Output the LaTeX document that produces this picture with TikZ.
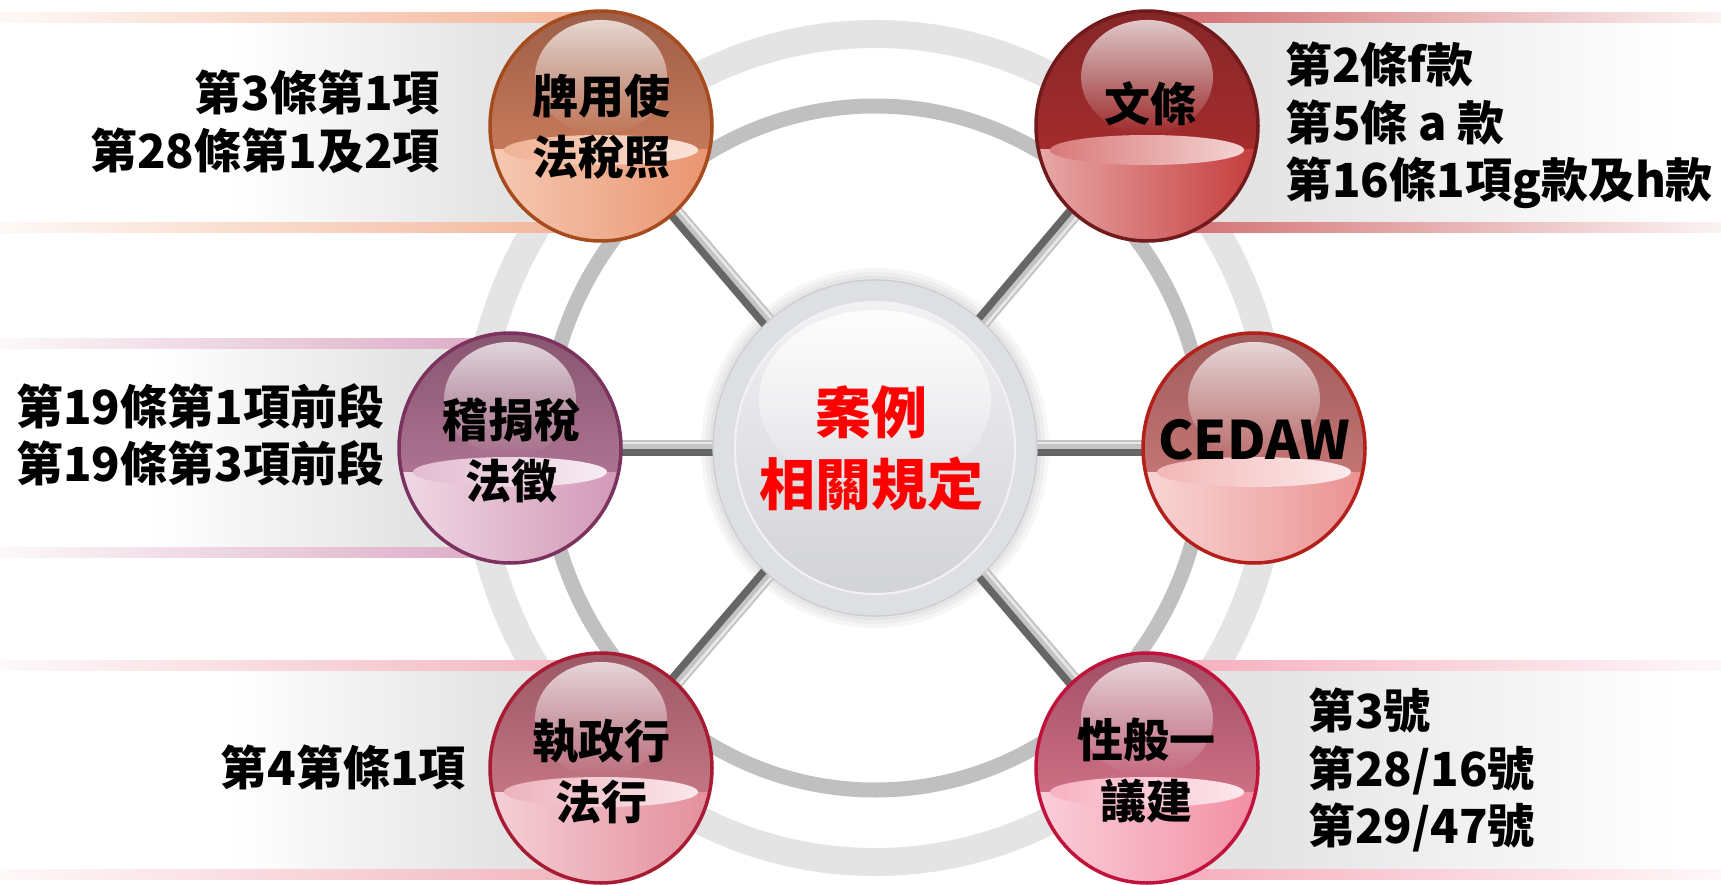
\documentclass[tikz,border=0pt]{standalone}
\usepackage{fontspec}
\setmainfont{Noto Sans CJK TC}
\usetikzlibrary{shapes.geometric,fadings,backgrounds}

\definecolor{ringin}{HTML}{C0C0C0}
\definecolor{ringout}{HTML}{E4E4E4}
\definecolor{bandgray}{HTML}{E3E3E3}
\definecolor{spkdark}{HTML}{666666}
\definecolor{spklight}{HTML}{C4C4C4}
\definecolor{spkhi}{HTML}{E8E8E8}
\definecolor{discout}{HTML}{DEDFE3}
\definecolor{discedge}{HTML}{CBCCD0}
\definecolor{discinA}{HTML}{F1F1F3}
\definecolor{discinB}{HTML}{D2D3D8}
\definecolor{cred}{HTML}{FF0000}
% satellite colours: border, top, bottom, liquid left, liquid right, stripe
\definecolor{aB}{HTML}{A64B1E}\definecolor{aT}{HTML}{9E5F49}\definecolor{aM}{HTML}{E08A64}\definecolor{aL}{HTML}{F7CDB8}\definecolor{aR}{HTML}{E8906A}\definecolor{aS}{HTML}{F2B395}
\definecolor{bB}{HTML}{701A1B}\definecolor{bT}{HTML}{862628}\definecolor{bM}{HTML}{B83030}\definecolor{bL}{HTML}{EBB0B0}\definecolor{bR}{HTML}{C33535}\definecolor{bS}{HTML}{D06A6C}
\definecolor{cB}{HTML}{7B325E}\definecolor{cT}{HTML}{885570}\definecolor{cM}{HTML}{C487A7}\definecolor{cL}{HTML}{F2DCE7}\definecolor{cR}{HTML}{D094B4}\definecolor{cS}{HTML}{DBA8C3}
\definecolor{dB}{HTML}{B3201A}\definecolor{dT}{HTML}{A05C5C}\definecolor{dM}{HTML}{DA8484}\definecolor{dL}{HTML}{FADADA}\definecolor{dR}{HTML}{EA8C8C}
\definecolor{eB}{HTML}{A71B33}\definecolor{eT}{HTML}{9C5866}\definecolor{eM}{HTML}{DC8896}\definecolor{eL}{HTML}{F6D4DB}\definecolor{eR}{HTML}{E38A98}\definecolor{eS}{HTML}{F1B3BD}
\definecolor{fB}{HTML}{C1123C}\definecolor{fT}{HTML}{A14F66}\definecolor{fM}{HTML}{EA8499}\definecolor{fL}{HTML}{FBD3DD}\definecolor{fR}{HTML}{F28AA0}\definecolor{fS}{HTML}{F5AABB}

\tikzfading[name=fadedown, top color=transparent!25, bottom color=transparent!100]
\tikzfading[name=fadedisc, top color=transparent!15, bottom color=transparent!100]

\tikzset{
  sat/.style n args={5}{ellipse, minimum width=222pt, minimum height=230pt, inner sep=0pt,
    draw=#1, line width=3.5pt, top color=#2, bottom color=#3,
    path picture={\begin{scope}[x=1pt,y=-1pt,shift={(path picture bounding box.center)}]
      \shade[left color=#4, right color=#5] (-125,24) rectangle (125,125);
      \shade[left color=#4!55!#5, right color=#4!55!white] (0,24) ellipse (97 and 15);
      \fill[white, path fading=fadedown] (0,-49) ellipse (66 and 57);
    \end{scope}}},
  cdisc/.style={ellipse, minimum width=324pt, minimum height=336pt, inner sep=0pt,
    fill=discout, draw=discedge, line width=1.2pt,
    path picture={\begin{scope}[x=1pt,y=-1pt,shift={(path picture bounding box.center)}]
      \shade[top color=discinA, bottom color=discinB] (0,0) ellipse (140 and 146);
      \draw[white!60!discout, line width=2pt] (0,0) ellipse (140 and 146);
      \fill[white, path fading=fadedisc] (0,-48) ellipse (116 and 90);
    \end{scope}}},
  stxt/.style={inner sep=0pt, align=center, text=black, font=\bfseries\fontsize{46}{61}\selectfont},
  ctxt/.style={inner sep=0pt, align=center, text=cred, font=\bfseries\fontsize{56}{72}\selectfont},
  sidetxt/.style={inner sep=0pt, text=black, font=\bfseries\fontsize{47}{57.5}\selectfont},
  spoke/.style={line width=16pt, spkdark},
  spokelt/.style={line width=9pt, spklight},
  spokehi/.style={line width=2.5pt, spkhi},
}

\newcommand\mkLband[6]{% top, bottom, right x, stripe colour, gradient start, gradient end
  \shade[left color=white, right color=bandgray] (#5,#1+10) rectangle (#6,#2-10);
  \fill[bandgray] (#6-0.5,#1+10) rectangle (#3,#2-10);
  \shade[left color=#4!8!white, right color=#4] (0,#1) rectangle (#3,#1+10);
  \shade[left color=#4!8!white, right color=#4] (0,#2-10) rectangle (#3,#2);
}
\newcommand\mkRband[4]{% top, bottom, left x, stripe colour
  \fill[bandgray] (#3,#1+10) rectangle (1250.5,#2-10);
  \shade[left color=bandgray, right color=white] (1250,#1+10) rectangle (1680,#2-10);
  \shade[left color=#4, right color=#4!8!white] (#3,#1) rectangle (1721,#1+10);
  \shade[left color=#4, right color=#4!8!white] (#3,#2-10) rectangle (1721,#2);
}

\begin{document}
\begin{tikzpicture}[x=1pt,y=-1pt]
\useasboundingbox (0,0) rectangle (1721,885);

% hub and satellites
\node[cdisc] (c) at (875,448) {};
\node[sat={aB}{aT}{aM}{aL}{aR}] (s1) at (601,126) {};
\node[sat={bB}{bT}{bM}{bL}{bR}] (s2) at (1147,126) {};
\node[sat={cB}{cT}{cM}{cL}{cR}] (s3) at (510,448) {};
\node[sat={dB}{dT}{dM}{dL}{dR}] (s4) at (1254,448) {};
\node[sat={eB}{eT}{eM}{eL}{eR}] (s5) at (601,768) {};
\node[sat={fB}{fT}{fM}{fL}{fR}] (s6) at (1147,768) {};

% labels inside
\node[ctxt] (t0) at ([xshift=-4pt]c.center) {案例\\相關規定};
\node[stxt] (t1) at ([yshift=-1pt]s1.center) {牌用使\\法稅照};
\node[stxt] (t2) at ([xshift=3pt,yshift=22pt]s2.center) {文條};
\node[stxt] (t3) at ([xshift=1pt,yshift=-2.5pt]s3.center) {稽捐稅\\法徵};
\node[stxt, font=\bfseries\fontsize{53}{61}\selectfont] (t4) at ([yshift=8pt]s4.center) {CEDAW};
\node[stxt] (t5) at ([yshift=-3.5pt]s5.center) {執政行\\法行};
\node[stxt] (t6) at ([xshift=-1pt,yshift=-2.5pt]s6.center) {性般一\\議建};

% side texts
\node[sidetxt, align=right, anchor=east] (l1) at (440,122) {第3條第1項\\第28條第1及2項};
\node[sidetxt, align=left, anchor=west] (l2) at (1285,125.5) {第2條f款\\第5條 a 款\\第16條1項g款及h款};
\node[sidetxt, align=left, anchor=west] (l3) at (16,435) {第19條第1項前段\\第19條第3項前段};
\node[sidetxt, align=right, anchor=east] (l4) at (466,767) {第4第條1項};
\node[sidetxt, align=left, anchor=west] (l5) at (1308,770) {第3號\\第28/16號\\第29/47號};

\begin{scope}[on background layer]
  \fill[white] (0,0) rectangle (1721,885);
  % rings
  \draw[ringout, line width=28pt] (c.center) ellipse [x radius=400, y radius=414];
  \draw[ringin, line width=15pt] (c.center) ellipse [x radius=330, y radius=342];
  % bands
  \mkLband{13}{233}{601}{aS}{230}{505}
  \mkRband{13}{233}{1147}{bS}
  \mkLband{338}{557}{510}{cS}{150}{415}
  \mkLband{660}{879}{601}{eS}{230}{505}
  \mkRband{660}{879}{1147}{fS}
  % soft shadow of hub
  \foreach \r in {4,8,12}{
    \fill[black, opacity=0.035] (c.center) ellipse [x radius={162+\r}, y radius={168+\r}];
  }
  % spokes
  \foreach \s/\dx/\dy in {s1/3/2.6, s6/3/2.6, s2/3.1/-2.6, s5/3.1/-2.6, s3/0/4, s4/0/4}{
    \draw[spoke] (c.center) -- (\s.center);
    \draw[spokelt, transform canvas={xshift=\dx, yshift=\dy}] (c.center) -- (\s.center);
    \draw[spokehi, transform canvas={xshift=1.3*\dx, yshift=1.3*\dy}] (c.center) -- (\s.center);
  }
\end{scope}
\end{tikzpicture}
\end{document}
